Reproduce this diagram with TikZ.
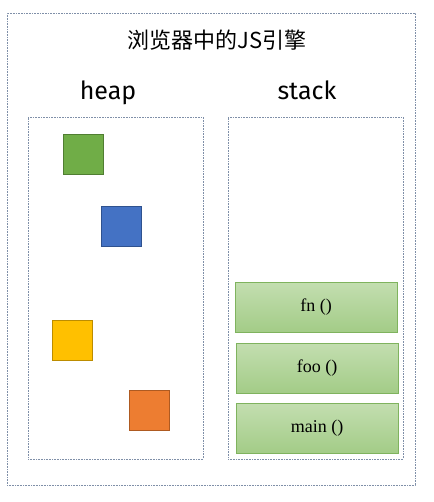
\documentclass[tikz,border=0pt]{standalone}
\usepackage{fontspec}
\setmainfont{Liberation Serif}
\newfontfamily\cjkfont{Noto Sans CJK SC}
\newfontfamily\handfont{Fira Sans}
\definecolor{framecol}{HTML}{7F8FA8}
\definecolor{gfill}{HTML}{70AD47}\definecolor{gline}{HTML}{507E32}
\definecolor{bfill}{HTML}{4472C4}\definecolor{bline}{HTML}{2F528F}
\definecolor{yfill}{HTML}{FFC000}\definecolor{yline}{HTML}{BC8C00}
\definecolor{ofill}{HTML}{ED7D31}\definecolor{oline}{HTML}{AE5A21}
\definecolor{stop}{HTML}{C3DEB0}\definecolor{sbot}{HTML}{A3CC87}
\definecolor{sline}{HTML}{7FB35E}
\begin{document}
\begin{tikzpicture}[x=1pt,y=-1pt,
  frame/.style={draw=framecol,densely dotted,line width=0.6pt,inner sep=0pt},
  obj/.style={rectangle,minimum width=40pt,minimum height=40pt,line width=0.9pt,inner sep=0pt},
  stackframe/.style={rectangle,draw=sline,line width=0.8pt,top color=stop,bottom color=sbot,
     minimum width=162pt,minimum height=50pt,inner sep=0pt,font=\fontsize{18}{21}\selectfont},
  lbl/.style={font=\handfont\fontsize{25}{29}\selectfont}]
\useasboundingbox (0,0) rectangle (433,502);
\fill[white] (0,0) rectangle (433,502);
\node[frame,minimum width=408pt,minimum height=472pt] (outer) at (211,249) {};
\node[font=\cjkfont\fontsize{22}{26}\selectfont] (title) at (217,40) {浏览器中的JS引擎};
\node[lbl] (heaplbl) at (108,93) {heap};
\node[lbl] (stacklbl) at (307,90) {stack};
\node[frame,minimum width=175pt,minimum height=342pt] (heap) at (115.5,288) {};
\node[frame,minimum width=175pt,minimum height=342pt] (stack) at (315.5,288) {};
\node[obj,fill=gfill,draw=gline] (g) at (83.5,154) {};
\node[obj,fill=bfill,draw=bline] (b) at (121.5,226) {};
\node[obj,fill=yfill,draw=yline] (y) at (72.5,340) {};
\node[obj,fill=ofill,draw=oline] (o) at (149.5,410) {};
\node[stackframe] (fn) at (316,307) {fn ()};
\node[stackframe] (foo) at (317,368) {foo ()};
\node[stackframe] (main) at (317,428) {main ()};
\end{tikzpicture}
\end{document}
